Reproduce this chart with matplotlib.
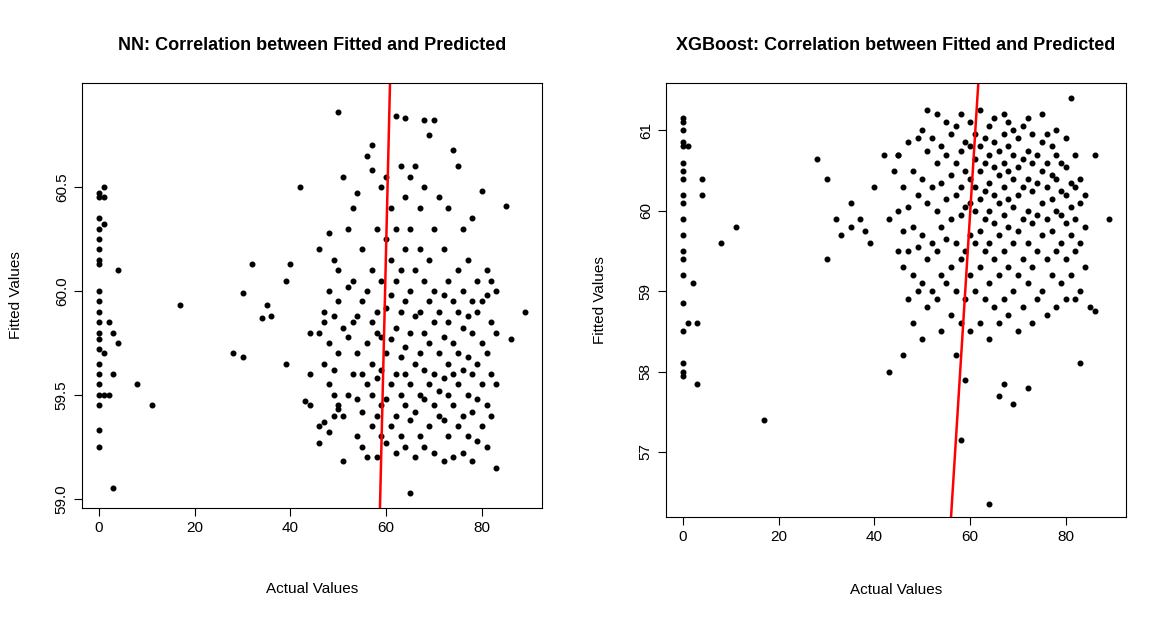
import matplotlib.pyplot as plt

plt.rcParams['font.family'] = ['Liberation Sans', 'DejaVu Sans']

# NN panel: sparse points and columns of points (x, [fitted values])
nn_sparse_x = [0]*22 + [1]*5 + [2, 3, 3, 4, 4, 3, 2, 8, 11, 17, 28, 30, 30, 32, 34, 35, 36, 39, 39, 40, 42, 43, 44, 44, 44,
               50, 62, 64, 68, 70, 89, 83, 65, 86, 85]
nn_sparse_y = [60.47, 60.45, 60.35, 60.3, 60.25, 60.2, 60.15, 60.13, 60.0, 59.95, 59.9, 59.85, 59.8, 59.77, 59.72,
               59.65, 59.6, 59.55, 59.5, 59.45, 59.33, 59.25,
               60.5, 60.45, 60.32, 59.7, 59.5,
               59.85, 59.8, 59.05, 60.1, 59.75, 59.6, 59.5, 59.55, 59.45, 59.93, 59.7, 59.68, 59.99, 60.13, 59.87,
               59.93, 59.88, 60.05, 59.65, 60.13, 60.5, 59.47, 59.45, 59.6, 59.8,
               60.86, 60.84, 60.83, 60.82, 60.82, 59.9, 59.15, 59.03, 59.77, 60.41]
nn_cols = [
    (46, [59.27, 59.35, 59.8, 60.2]), (47, [59.37, 59.65, 59.9, 59.85]),
    (48, [59.32, 59.55, 59.75, 60.28, 60.0]), (49, [59.4, 59.5, 59.62, 59.88, 60.15]),
    (50, [59.43, 59.45, 59.7, 59.95, 60.1]), (51, [59.18, 59.4, 59.82, 60.55]),
    (52, [59.5, 59.78, 60.02, 60.3]), (53, [59.6, 59.85, 60.05, 60.4]),
    (54, [59.3, 59.48, 59.7, 59.88, 60.47]), (55, [59.25, 59.42, 59.6, 59.95, 60.2]),
    (56, [59.2, 59.55, 59.75, 60.0, 60.65]), (57, [59.35, 59.5, 59.65, 59.85, 60.1, 60.58, 60.7]),
    (58, [59.2, 59.4, 59.58, 59.8, 59.9, 60.3]), (59, [59.3, 59.45, 59.62, 59.78, 60.05, 60.5]),
    (60, [59.27, 59.48, 59.7, 59.92, 60.25, 60.55]), (61, [59.35, 59.55, 59.77, 59.98, 60.15, 60.4]),
    (62, [59.22, 59.4, 59.6, 59.82, 60.05, 60.3]), (63, [59.3, 59.5, 59.68, 59.9, 60.1, 60.6]),
    (64, [59.25, 59.45, 59.6, 59.73, 59.95, 60.2, 60.45]), (65, [59.38, 59.55, 59.8, 60.0, 60.3, 60.55]),
    (66, [59.2, 59.42, 59.65, 59.88, 60.1, 60.6]), (67, [59.3, 59.5, 59.7, 59.9, 60.2, 60.4]),
    (68, [59.25, 59.48, 59.62, 59.8, 60.05, 60.5]), (69, [59.35, 59.55, 59.75, 59.95, 60.15, 60.75]),
    (70, [59.22, 59.45, 59.6, 59.85, 60.0, 60.3]), (71, [59.4, 59.52, 59.7, 59.9, 60.45]),
    (72, [59.18, 59.38, 59.58, 59.78, 59.98, 60.2]), (73, [59.3, 59.5, 59.65, 59.85, 60.05, 60.4]),
    (74, [59.2, 59.45, 59.6, 59.75, 59.95, 60.68]), (75, [59.35, 59.55, 59.7, 59.9, 60.1, 60.6]),
    (76, [59.22, 59.4, 59.62, 59.82, 60.0, 60.3]), (77, [59.3, 59.5, 59.68, 59.88, 60.15]),
    (78, [59.18, 59.42, 59.6, 59.8, 59.95, 60.35]), (79, [59.28, 59.48, 59.65, 59.9, 60.05]),
    (80, [59.35, 59.55, 59.75, 59.95, 60.48]), (81, [59.25, 59.45, 59.7, 59.98, 60.1]),
    (82, [59.4, 59.6, 59.85, 60.05]), (83, [59.55, 59.8, 60.0]),
]

# XGBoost panel
xgb_sparse_x = [0]*20 + [1, 1, 2, 3, 3, 4, 4, 8, 11, 17, 28, 30, 30, 32, 33, 35, 35, 37, 38, 39, 40, 42, 43, 43, 44,
                45, 58, 59, 64, 66, 67, 69, 72, 83, 85, 89]
xgb_sparse_y = [61.15, 61.1, 61.0, 60.85, 60.8, 60.6, 60.5, 60.4, 60.2, 60.1, 59.9, 59.7, 59.5, 59.4, 59.2,
                58.85, 58.5, 58.1, 58.0, 57.95,
                60.8, 58.6, 59.1, 57.85, 58.6, 60.4, 60.2,
                59.6, 59.8, 57.4, 60.65, 59.4, 60.4, 59.9, 59.7, 59.8, 60.1, 59.9, 59.75, 59.6, 60.3, 60.7,
                58.0, 59.9, 60.5, 60.7, 57.15, 57.9, 56.35, 57.7, 57.85, 57.6, 57.8, 58.1, 58.8, 59.9]
xgb_cols = [
    (45, [59.5, 60.0, 60.7]), (46, [58.2, 59.3, 59.75, 60.3]), (47, [58.9, 59.5, 60.05, 60.85]),
    (48, [58.6, 59.2, 59.8, 60.5]), (49, [59.0, 59.55, 60.2, 60.9]), (50, [58.4, 59.1, 59.7, 60.4, 61.0]),
    (51, [58.8, 59.4, 60.1, 60.75, 61.25]), (52, [59.0, 59.6, 60.3, 60.9]),
    (53, [58.9, 59.5, 60.0, 60.6, 61.2]), (54, [58.5, 59.2, 59.8, 60.35, 60.8]),
    (55, [59.1, 59.65, 60.15, 60.7, 61.1]), (56, [58.7, 59.3, 59.9, 60.45, 60.95]),
    (57, [58.2, 59.0, 59.6, 60.2, 60.6, 61.05]), (58, [58.6, 59.4, 59.95, 60.3, 60.75, 61.2]),
    (59, [58.9, 59.5, 60.05, 60.5, 60.85]), (60, [58.5, 59.2, 59.7, 60.1, 60.4, 60.8, 61.1]),
    (61, [59.0, 59.6, 60.0, 60.3, 60.65, 60.95]), (62, [58.6, 59.3, 59.75, 60.15, 60.5, 60.8, 61.25]),
    (63, [58.9, 59.5, 59.9, 60.25, 60.6, 60.9]), (64, [58.4, 59.1, 59.6, 60.0, 60.35, 60.7, 61.05]),
    (65, [58.8, 59.4, 59.85, 60.2, 60.55, 60.85, 61.15]), (66, [58.6, 59.2, 59.7, 60.1, 60.45, 60.75]),
    (67, [58.9, 59.5, 59.95, 60.3, 60.6, 60.95, 61.2]), (68, [58.7, 59.3, 59.8, 60.15, 60.5, 60.8, 61.1]),
    (69, [59.0, 59.6, 60.05, 60.4, 60.7, 61.0]), (70, [58.5, 59.2, 59.75, 60.2, 60.55, 60.9]),
    (71, [58.8, 59.4, 59.9, 60.3, 60.65, 61.05]), (72, [59.1, 59.6, 60.0, 60.4, 60.75, 61.15]),
    (73, [58.6, 59.3, 59.85, 60.25, 60.6, 60.95]), (74, [58.9, 59.5, 59.95, 60.35, 60.7]),
    (75, [59.0, 59.7, 60.1, 60.5, 60.85, 61.2]), (76, [58.7, 59.4, 59.9, 60.3, 60.6, 60.95]),
    (77, [59.2, 59.75, 60.15, 60.45, 60.8]), (78, [58.8, 59.5, 60.0, 60.4, 60.7, 61.0]),
    (79, [59.1, 59.6, 59.95, 60.25, 60.6]), (80, [58.9, 59.4, 59.85, 60.2, 60.55, 60.9]),
    (81, [59.2, 59.7, 60.05, 60.35, 61.4]), (82, [58.9, 59.5, 59.9, 60.3, 60.7]),
    (83, [59.0, 59.6, 60.1, 60.4]), (84, [59.3, 59.8, 60.2]), (86, [58.75, 60.7]),
]

# red fit lines, given as two (actual, fitted) points each
nn_line = [(58.7, 58.956), (60.8, 61.0)]
xgb_line = [(56.0, 56.19), (61.7, 61.59)]


def expand(sx, sy, cols):
    xs, ys = list(sx), list(sy)
    for x, col in cols:
        xs += [x] * len(col)
        ys += col
    return xs, ys


fig = plt.figure(figsize=(11.68, 6.21), dpi=100)
ax1 = fig.add_axes([82/1168, 113/621, 460/1168, 425/621])
ax2 = fig.add_axes([666/1168, 104/621, 460/1168, 434/621])

panels = [
    (ax1, nn_sparse_x, nn_sparse_y, nn_cols, nn_line, (58.956, 61.0), [59.0, 59.5, 60.0, 60.5],
     'NN: Correlation between Fitted and Predicted', 34),
    (ax2, xgb_sparse_x, xgb_sparse_y, xgb_cols, xgb_line, (56.19, 61.59), [57, 58, 59, 60, 61],
     'XGBoost: Correlation between Fitted and Predicted', 28),
]
for ax, sx, sy, cols, line, ylim, yt, title, xpad in panels:
    xs, ys = expand(sx, sy, cols)
    ax.plot(xs, ys, 'o', color='black', markersize=3.3, linestyle='none')
    ax.axline(line[0], line[1], color='red', linewidth=1.8)
    ax.set_xlim(-3.56, 92.56)
    ax.set_ylim(*ylim)
    ax.set_xticks([0, 20, 40, 60, 80])
    ax.set_yticks(yt)
    if ax is ax1:
        ax.set_yticklabels(['59.0', '59.5', '60.0', '60.5'])
    for lab in ax.get_yticklabels():
        lab.set_rotation(90)
        lab.set_va('center')
    ax.tick_params(labelsize=11, length=6, direction='out')
    ax.set_xlabel('Actual Values', fontsize=11, labelpad=xpad)
    ax.set_ylabel('Fitted Values', fontsize=11, labelpad=23)
    ax.set_title(title, fontsize=13, fontweight='bold', pad=24)

fig.savefig('out.png', dpi=100)
